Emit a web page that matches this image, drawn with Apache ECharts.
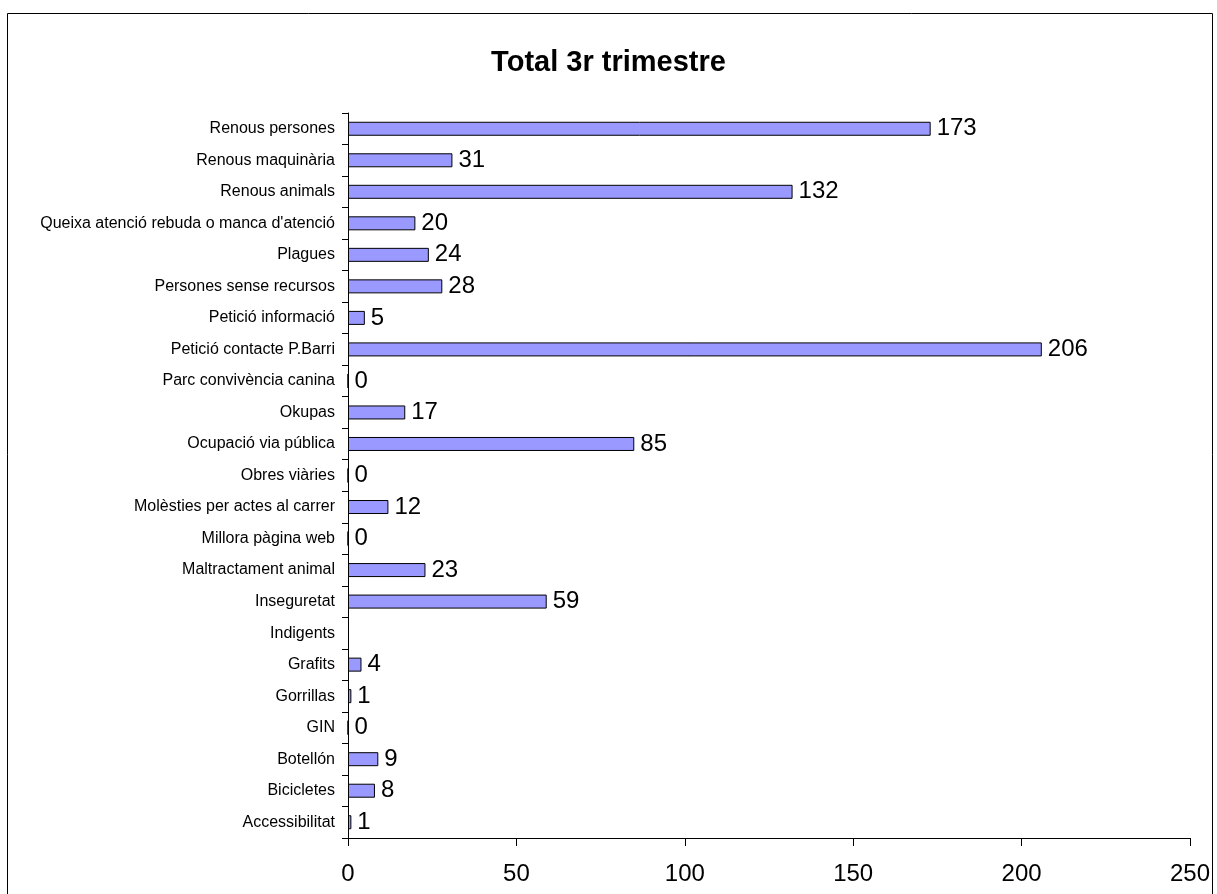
<!DOCTYPE html>
<html><head><meta charset="utf-8">
<script src="https://cdn.jsdelivr.net/npm/echarts@6/dist/echarts.min.js"></script>
<style>html,body{margin:0;padding:0;background:#fff}#c{width:1217px;height:894px}</style>
</head><body><div id="c"></div>
<script>
const categories = ["Accessibilitat","Bicicletes","Botellón","GIN","Gorrillas","Grafits","Indigents","Inseguretat","Maltractament animal","Millora pàgina web","Molèsties per actes al carrer","Obres viàries","Ocupació via pública","Okupas","Parc convivència canina","Petició contacte P.Barri","Petició informació","Persones sense recursos","Plagues","Queixa atenció rebuda o manca d'atenció","Renous animals","Renous maquinària","Renous persones"];
const values = [1,8,9,0,1,4,null,59,23,0,12,0,85,17,0,206,5,28,24,20,132,31,173];
const chart = echarts.init(document.getElementById('c'));
chart.setOption({
  animation:false,
  title:{text:'Total 3r trimestre',left:'center',top:43,textStyle:{fontFamily:'Liberation Sans',fontSize:29,fontWeight:'bold',color:'#000'}},
  graphic:[{type:'rect',shape:{x:7.5,y:13.5,width:1205,height:900},style:{fill:'none',stroke:'#000',lineWidth:1}}],
  grid:{left:348,right:27,top:113,bottom:56,containLabel:false},
  xAxis:{type:'value',min:0,max:250,interval:50,
    axisLine:{show:true,lineStyle:{color:'#000'}},
    axisTick:{show:true,length:8,lineStyle:{color:'#000'}},
    splitLine:{show:false},
    axisLabel:{fontFamily:'Liberation Sans',fontSize:24,color:'#000',margin:24}},
  yAxis:{type:'category',data:categories,
    axisLine:{show:true,lineStyle:{color:'#000'}},
    axisTick:{show:true,length:6,lineStyle:{color:'#000'}},
    axisLabel:{fontFamily:'Liberation Sans',fontSize:16,color:'#000',margin:13}},
  series:[{type:'bar',data:values,barWidth:14,
    itemStyle:{color:'#9999ff',borderColor:'#000',borderWidth:1},
    label:{show:true,position:'right',distance:6,fontFamily:'Liberation Sans',fontSize:24,color:'#000',
      formatter:p=>p.value==null?'':String(p.value)}}]
});
</script></body></html>
